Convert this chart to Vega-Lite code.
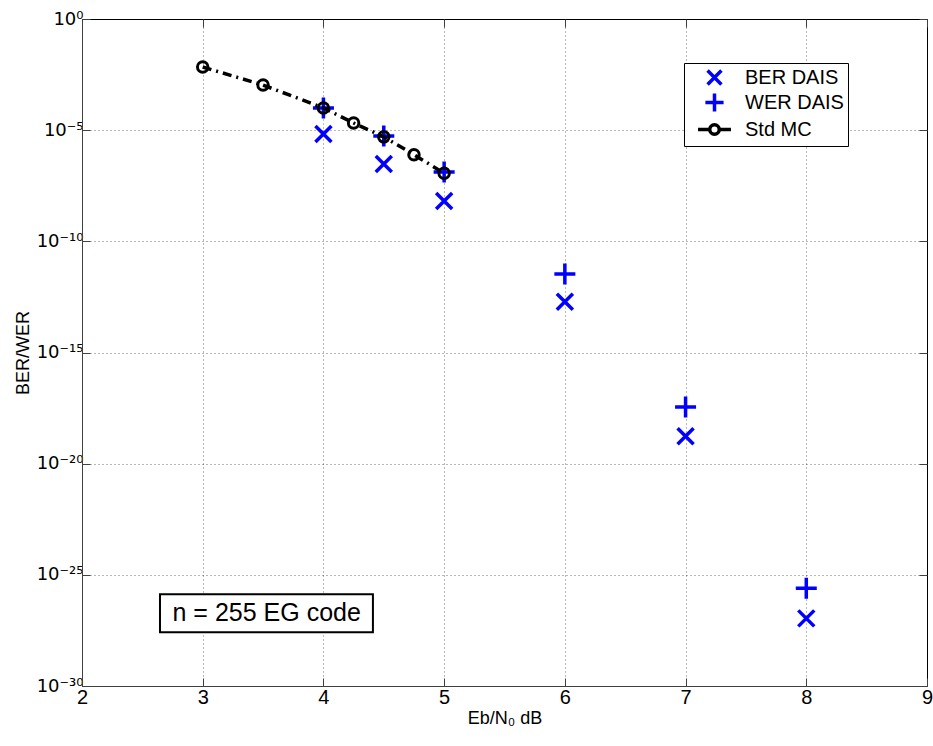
{
  "$schema": "https://vega.github.io/schema/vega-lite/v6.json",
  "autosize": "none",
  "width": 845,
  "height": 667,
  "padding": {"left": 82, "top": 19, "right": 6, "bottom": 60},
  "background": "white",
  "config": {
    "font": "Liberation Sans",
    "view": {"stroke": "#000", "strokeWidth": 1},
    "axis": {"labelFont": "Liberation Sans", "titleFont": "Liberation Sans", "labelColor": "#000", "titleColor": "#000", "domainColor": "#404040", "tickColor": "#404040", "gridColor": "#000", "gridOpacity": 0.55, "gridDash": [1, 3], "titleFontWeight": "normal"}
  },
  "datasets": {
    "dais": [
      {"ebn0": 4, "value": 6.8e-6, "series": "BER DAIS"},
      {"ebn0": 4.5, "value": 3.0e-7, "series": "BER DAIS"},
      {"ebn0": 5, "value": 6.5e-9, "series": "BER DAIS"},
      {"ebn0": 6, "value": 1.9e-13, "series": "BER DAIS"},
      {"ebn0": 7, "value": 1.7e-19, "series": "BER DAIS"},
      {"ebn0": 8, "value": 1.1e-27, "series": "BER DAIS"},
      {"ebn0": 4, "value": 1.0e-4, "series": "WER DAIS"},
      {"ebn0": 4.5, "value": 5.4e-6, "series": "WER DAIS"},
      {"ebn0": 5, "value": 1.3e-7, "series": "WER DAIS"},
      {"ebn0": 6, "value": 3.4e-12, "series": "WER DAIS"},
      {"ebn0": 7, "value": 3.5e-18, "series": "WER DAIS"},
      {"ebn0": 8, "value": 2.5e-26, "series": "WER DAIS"}
    ],
    "mc": [
      {"ebn0": 3, "value": 6.9e-3},
      {"ebn0": 3.5, "value": 1.07e-3},
      {"ebn0": 4, "value": 1.0e-4},
      {"ebn0": 4.25, "value": 2.1e-5},
      {"ebn0": 4.5, "value": 5.0e-6},
      {"ebn0": 4.75, "value": 7.9e-7},
      {"ebn0": 5, "value": 1.15e-7}
    ],
    "note": [
      {"x0": 2.646, "x1": 4.41, "y0": 1.35e-26, "y1": 2.6e-28, "xc": 3.53, "yc": 1.9e-27, "label": "n = 255 EG code"}
    ]
  },
  "layer": [
    {
      "data": {"name": "dais"},
      "mark": {"type": "point", "filled": false, "strokeWidth": 3.5, "size": 400, "opacity": 1},
      "encoding": {
        "x": {"field": "ebn0", "type": "quantitative", "scale": {"domain": [2, 9], "nice": false, "zero": false},
          "axis": {"values": [2, 3, 4, 5, 6, 7, 8, 9], "format": "d", "title": "Eb/N₀ dB", "titleFontSize": 18, "labelFontSize": 20, "tickSize": -8, "labelPadding": 9, "titlePadding": 2, "grid": true, "labelFlush": false}},
        "y": {"field": "value", "type": "quantitative", "scale": {"type": "log", "domain": [1e-30, 1], "nice": false},
          "axis": {"values": [1e-30, 1e-25, 1e-20, 1e-15, 1e-10, 1e-5, 1],
            "labelExpr": "datum.value >= 0.5 ? '10⁰' : datum.value >= 1e-6 ? '10⁻⁵' : datum.value >= 1e-11 ? '10⁻¹⁰' : datum.value >= 1e-16 ? '10⁻¹⁵' : datum.value >= 1e-21 ? '10⁻²⁰' : datum.value >= 1e-26 ? '10⁻²⁵' : '10⁻³⁰'",
            "title": "BER/WER", "titleFontSize": 18, "labelFont": "DejaVu Sans", "labelFontSize": 18, "labelBaseline": "middle", "labelDy": -3, "tickSize": -8, "labelPadding": 7, "titlePadding": 4, "grid": true, "labelFlush": false}},
        "shape": {"field": "series", "type": "nominal",
          "scale": {"domain": ["BER DAIS", "WER DAIS", "Std MC"],
            "range": ["M-0.8,-0.8L0.8,0.8M0.8,-0.8L-0.8,0.8", "M-1.05,0L1.05,0M0,-1.05L0,1.05", "M-1.9,0L-0.55,0M-0.55,0A0.55,0.55 0 1,1 0.55,0A0.55,0.55 0 1,1 -0.55,0M0.55,0L1.9,0"]},
          "legend": {"title": null, "orient": "none", "legendX": 602, "legendY": 44, "labelFontSize": 20, "labelFont": "Liberation Sans", "symbolSize": 300, "symbolStrokeWidth": 3.5, "symbolFillColor": "transparent", "strokeColor": "#000", "fillColor": "white", "padding": 4, "rowPadding": -14, "labelOffset": 20, "symbolOffset": 16}},
        "color": {"field": "series", "type": "nominal",
          "scale": {"domain": ["BER DAIS", "WER DAIS", "Std MC"], "range": ["#0000ff", "#0000ff", "#000000"]}}
      }
    },
    {
      "data": {"name": "mc"},
      "mark": {"type": "line", "color": "#000", "strokeWidth": 3.5, "strokeDash": [9, 5, 2, 5]},
      "encoding": {
        "x": {"field": "ebn0", "type": "quantitative", "axis": {"orient": "top", "values": [2, 3, 4, 5, 6, 7, 8, 9], "labels": false, "title": null, "tickSize": -8, "grid": false, "domain": false}},
        "y": {"field": "value", "type": "quantitative", "axis": {"orient": "right", "values": [1e-30, 1e-25, 1e-20, 1e-15, 1e-10, 1e-5, 1], "labels": false, "title": null, "tickSize": -8, "grid": false, "domain": false}}
      }
    },
    {
      "data": {"name": "mc"},
      "mark": {"type": "point", "shape": "circle", "filled": false, "color": "#000", "strokeWidth": 3, "size": 110, "opacity": 1},
      "encoding": {
        "x": {"field": "ebn0", "type": "quantitative", "axis": null},
        "y": {"field": "value", "type": "quantitative", "axis": null}
      }
    },
    {
      "data": {"name": "note"},
      "mark": {"type": "rect", "fill": "white", "stroke": "#000", "strokeWidth": 2},
      "encoding": {
        "x": {"field": "x0", "type": "quantitative", "axis": null},
        "x2": {"field": "x1"},
        "y": {"field": "y0", "type": "quantitative", "axis": null},
        "y2": {"field": "y1"}
      }
    },
    {
      "data": {"name": "note"},
      "mark": {"type": "text", "fontSize": 25, "font": "Liberation Sans", "color": "#000", "align": "center", "baseline": "middle"},
      "encoding": {
        "x": {"field": "xc", "type": "quantitative", "axis": null},
        "y": {"field": "yc", "type": "quantitative", "axis": null},
        "text": {"field": "label"}
      }
    }
  ],
  "resolve": {"axis": {"x": "independent", "y": "independent"}}
}
